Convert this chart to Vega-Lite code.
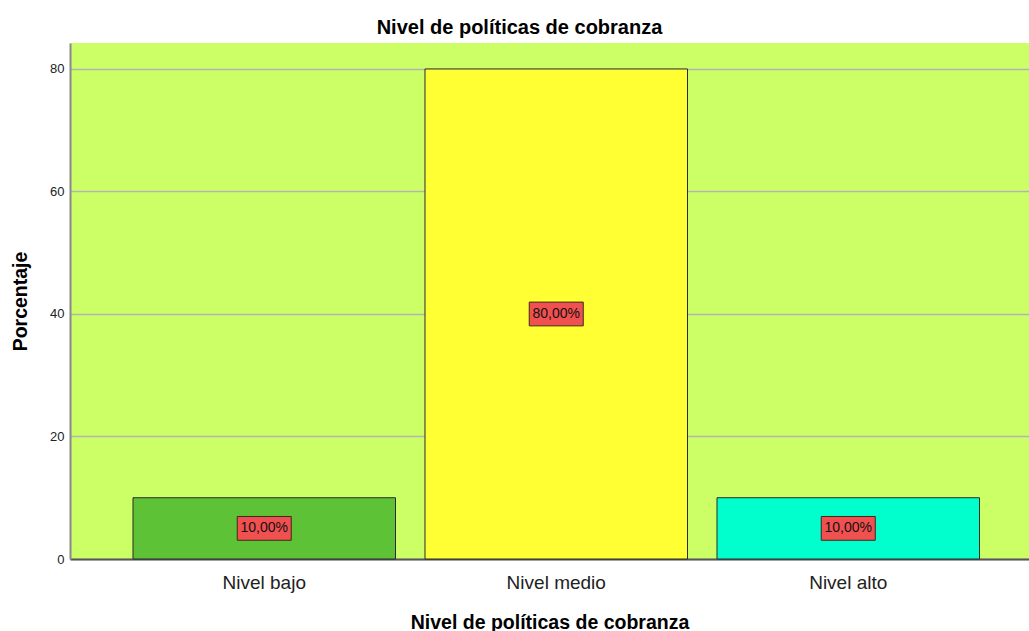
{
  "$schema": "https://vega.github.io/schema/vega-lite/v6.json",
  "width": 959,
  "height": 516,
  "autosize": {"type": "none"},
  "padding": {"left": 70, "top": 43, "right": 0, "bottom": 72},
  "background": "white",
  "title": {
    "text": "Nivel de políticas de cobranza",
    "font": "Liberation Sans",
    "fontSize": 20,
    "fontWeight": "bold",
    "color": "#000000",
    "anchor": "middle",
    "dx": -30,
    "dy": 19,
    "baseline": "alphabetic",
    "offset": 8
  },
  "config": {
    "view": {"fill": "#CCFF66", "stroke": null},
    "font": "Liberation Sans"
  },
  "data": {
    "values": [
      {"nivel": "Nivel bajo", "porcentaje": 10, "etiqueta": "10,00%"},
      {"nivel": "Nivel medio", "porcentaje": 80, "etiqueta": "80,00%"},
      {"nivel": "Nivel alto", "porcentaje": 10, "etiqueta": "10,00%"}
    ]
  },
  "transform": [{"calculate": "datum.porcentaje / 2", "as": "mitad"}],
  "encoding": {
    "x": {
      "field": "nivel",
      "type": "nominal",
      "sort": null,
      "scale": {"paddingInner": 0.101, "paddingOuter": 0.1926, "align": 0.56},
      "axis": {
        "title": "Nivel de políticas de cobranza",
        "titleFont": "Liberation Sans",
        "titleFontSize": 19.5,
        "titleFontWeight": "bold",
        "titleColor": "#000000",
        "titleY": 69,
        "titleBaseline": "alphabetic",
        "labelAngle": 0,
        "labelFont": "Liberation Sans",
        "labelFontSize": 19,
        "labelColor": "#222222",
        "labelBaseline": "alphabetic",
        "labelPadding": 29,
        "ticks": false,
        "domainColor": "#555555",
        "domainWidth": 2,
        "grid": false
      }
    }
  },
  "layer": [
    {
      "mark": {"type": "bar", "stroke": "#2b2b2b", "strokeWidth": 1, "opacity": 1},
      "encoding": {
        "y": {
          "field": "porcentaje",
          "type": "quantitative",
          "scale": {"domain": [0, 84.24], "nice": false},
          "axis": {
            "title": "Porcentaje",
            "titleFont": "Liberation Sans",
            "titleFontSize": 19.5,
            "titleFontWeight": "bold",
            "titleColor": "#000000",
            "titleX": -50,
            "titleY": 258,
            "titleAngle": -90,
            "titleAlign": "center",
            "titleBaseline": "middle",
            "values": [0, 20, 40, 60, 80],
            "labelFont": "Liberation Sans",
            "labelFontSize": 13,
            "labelColor": "#222222",
            "labelPadding": 6,
            "ticks": false,
            "grid": true,
            "gridColor": "#b4b4b4",
            "gridWidth": 1.5,
            "domainColor": "#888888",
            "domainWidth": 2
          }
        },
        "color": {
          "field": "nivel",
          "type": "nominal",
          "scale": {
            "domain": ["Nivel bajo", "Nivel medio", "Nivel alto"],
            "range": ["#5EC236", "#FFFF33", "#00FFCC"]
          },
          "legend": null
        }
      }
    },
    {
      "mark": {
        "type": "point",
        "filled": true,
        "shape": "M-1,-0.44L1,-0.44L1,0.44L-1,0.44Z",
        "size": 2916,
        "fill": "#F05050",
        "stroke": "#3a2a1a",
        "strokeWidth": 1,
        "opacity": 1
      },
      "encoding": {
        "y": {"field": "mitad", "type": "quantitative"}
      }
    },
    {
      "mark": {
        "type": "text",
        "font": "Liberation Sans",
        "fontSize": 14,
        "color": "#111111",
        "baseline": "middle",
        "align": "center"
      },
      "encoding": {
        "y": {"field": "mitad", "type": "quantitative"},
        "text": {"field": "etiqueta"}
      }
    }
  ]
}
